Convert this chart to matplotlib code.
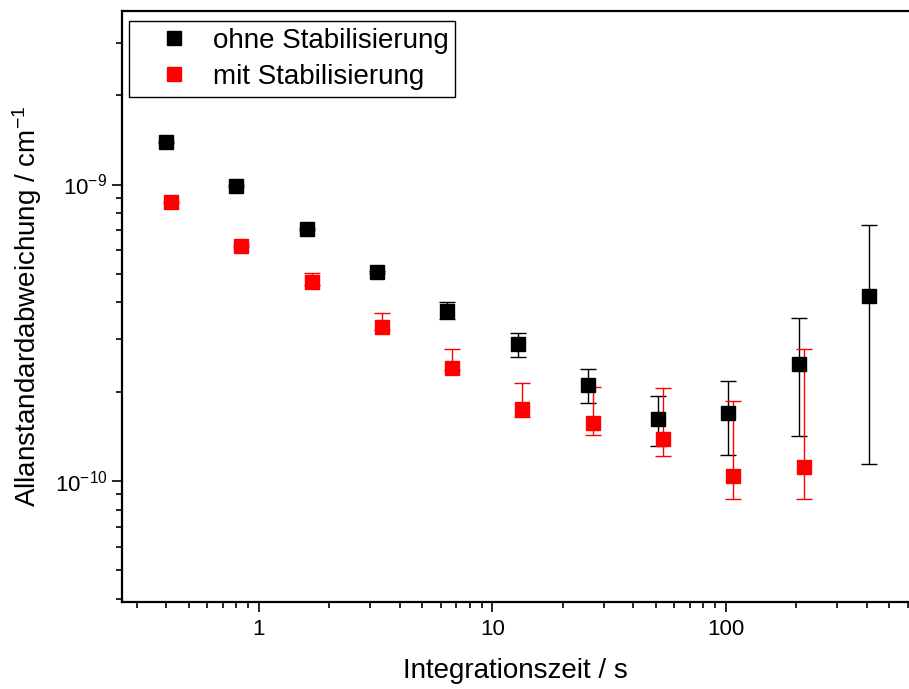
import numpy as np
from matplotlib import pyplot as plt
from matplotlib.lines import Line2D
from matplotlib.ticker import LogLocator, NullFormatter, FuncFormatter

plt.rcParams['font.family'] = ['Liberation Sans', 'DejaVu Sans']
plt.rcParams['mathtext.fontset'] = 'custom'
plt.rcParams['mathtext.rm'] = 'Liberation Sans'
plt.rcParams['mathtext.it'] = 'Liberation Sans:italic'
plt.rcParams['axes.unicode_minus'] = False

# integration times / s
tau_ohne = [0.4, 0.8, 1.6, 3.2, 6.4, 12.8, 25.6, 51.2, 102.4, 204.8, 409.6]
tau_mit = [0.42, 0.84, 1.68, 3.36, 6.72, 13.4, 26.9, 53.8, 107.5, 215.0]

# Allan deviation / cm^-1
sig_ohne = [1.39e-9, 9.87e-10, 7.08e-10, 5.08e-10, 3.75e-10, 2.89e-10,
            2.11e-10, 1.62e-10, 1.70e-10, 2.48e-10, 4.21e-10]
hi_ohne = [1.40e-9, 0.995e-9, 7.14e-10, 5.12e-10, 4.0e-10, 3.16e-10,
           2.38e-10, 1.93e-10, 2.18e-10, 3.53e-10, 7.29e-10]
lo_ohne = [1.38e-9, 9.79e-10, 7.02e-10, 5.04e-10, 3.51e-10, 2.62e-10,
           1.83e-10, 1.31e-10, 1.22e-10, 1.42e-10, 1.14e-10]

sig_mit = [8.71e-10, 6.22e-10, 4.68e-10, 3.31e-10, 2.41e-10, 1.75e-10,
           1.57e-10, 1.38e-10, 1.04e-10, 1.11e-10]
hi_mit = [8.78e-10, 6.27e-10, 5.02e-10, 3.68e-10, 2.79e-10, 2.14e-10,
          2.08e-10, 2.05e-10, 1.86e-10, 2.78e-10]
lo_mit = [8.64e-10, 6.17e-10, 4.58e-10, 3.24e-10, 2.37e-10, 1.64e-10,
          1.43e-10, 1.21e-10, 8.71e-11, 8.71e-11]

labels = ['ohne Stabilisierung', 'mit Stabilisierung']
colors = ['black', 'red']


def err(sig, lo, hi):
    sig = np.array(sig)
    return [sig - np.array(lo), np.array(hi) - sig]


fig = plt.figure(figsize=(9.09, 6.89), dpi=100)
ax = fig.add_axes([0.1342, 0.1263, 0.8658, 0.8577])

ax.errorbar(tau_ohne, sig_ohne, yerr=err(sig_ohne, lo_ohne, hi_ohne),
            fmt='s', color=colors[0], ms=9.5, elinewidth=1.0, capsize=6,
            capthick=1.0)
ax.errorbar(tau_mit, sig_mit, yerr=err(sig_mit, lo_mit, hi_mit),
            fmt='s', color=colors[1], ms=9.5, elinewidth=1.0, capsize=6,
            capthick=1.0)

ax.set_xscale('log')
ax.set_yscale('log')
ax.set_xlim(0.259, 608)
ax.set_ylim(3.9e-11, 3.85e-9)

ax.xaxis.set_major_locator(LogLocator(base=10))
ax.xaxis.set_minor_locator(LogLocator(base=10, subs=np.arange(2, 10)))
ax.xaxis.set_major_formatter(FuncFormatter(lambda v, p: f'{v:g}'))
ax.xaxis.set_minor_formatter(NullFormatter())
ax.yaxis.set_minor_locator(LogLocator(base=10, subs=np.arange(2, 10)))
ax.yaxis.set_minor_formatter(NullFormatter())

ax.tick_params(which='both', direction='out', top=False, right=False,
               width=1.2, labelsize=16)
ax.tick_params(which='major', length=7)
ax.tick_params(which='minor', length=4)
ax.tick_params(axis='x', pad=5)

for s in ['left', 'bottom', 'top']:
    ax.spines[s].set_linewidth(1.6)
ax.spines['right'].set_visible(False)

ax.set_xlabel('Integrationszeit / s', fontsize=20, labelpad=13)
ax.set_ylabel('Allanstandardabweichung / cm$^{-1}$', fontsize=20, labelpad=8)

handles = [Line2D([], [], ls='none', marker='s', ms=9.5, color=c)
           for c in colors]
leg = ax.legend(handles, labels, loc='upper left',
                bbox_to_anchor=(0.009, 0.983),
                borderaxespad=0, fontsize=20, frameon=True, fancybox=False,
                framealpha=1, edgecolor='black', handletextpad=0.06,
                labelspacing=0.35, borderpad=0.25, handlelength=2.7)
leg.get_frame().set_linewidth(1.0)

fig.savefig('out.png', dpi=100)
